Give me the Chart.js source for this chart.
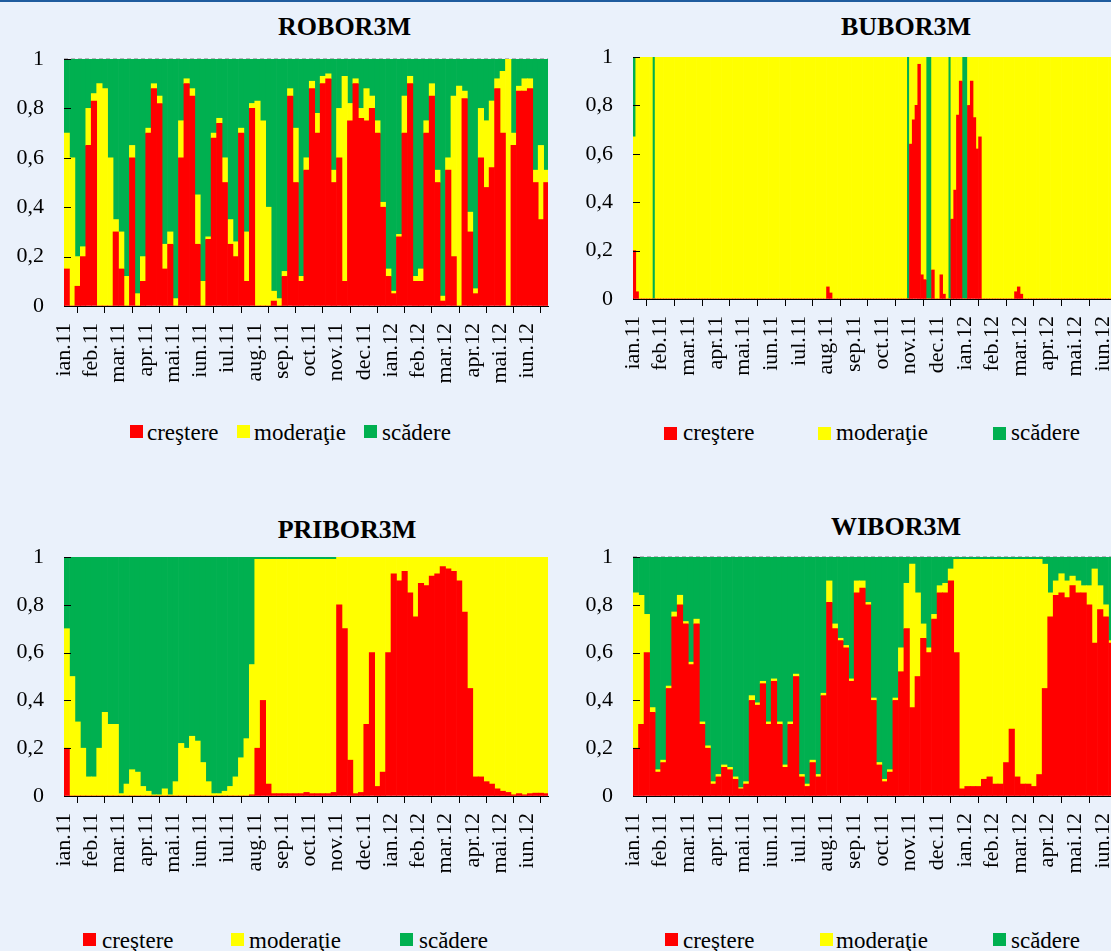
<!DOCTYPE html>
<html><head><meta charset="utf-8">
<script src="https://cdn.jsdelivr.net/npm/chart.js@4.4.1/dist/chart.umd.min.js"></script>
<style>
html,body{margin:0;padding:0;}
body{width:1111px;height:951px;overflow:hidden;background:#EAF1FB;position:relative;font-family:'Liberation Serif','DejaVu Serif','Noto Serif',serif;}
#topline{position:absolute;left:0;top:0;width:1111px;height:2px;background:#1F5C9E;}
canvas{position:absolute;}
.title{position:absolute;font-weight:bold;font-size:26px;line-height:26px;white-space:nowrap;transform:translateX(-50%);color:#000;}
.legtxt{position:absolute;font-size:23px;line-height:23px;white-space:nowrap;color:#000;}
.legbox{position:absolute;width:13px;height:13px;}
</style></head><body>
<div id="topline"></div>
<script>
// ---------- DATA ----------
const months = ['ian.11','feb.11','mar.11','apr.11','mai.11','iun.11','iul.11','aug.11','sep.11','oct.11','nov.11','dec.11','ian.12','feb.12','mar.12','apr.12','mai.12','iun.12'];
const yTickLabels = ['0','0,2','0,4','0,6','0,8','1'];
const seriesNames = ['creştere','moderaţie','scădere'];
const seriesColors = ['#FF0000','#FFFF00','#00B050'];
const spanMonths = 17.76;

// ROBOR3M (bins of 0.2 month)
const roborRed = [.15,0,.08,.2,.65,.83,0,0,0,.3,
 .15,0,.6,0,.1,.7,.88,.82,.15,.25,
 0,.6,.9,.85,.25,0,.27,.68,.74,.5,
 .25,.2,.7,.1,.8,0,0,0,.02,0,
 .12,.85,.5,.1,.55,.88,.7,.9,.92,.5,
 .6,.1,.75,.9,.76,.75,.8,.7,.4,.12,
 .05,.28,.7,.9,.1,.1,.7,.85,.5,.02,
 .55,.2,0,.84,.3,.05,.6,.48,.56,.88,
 .7,0,.65,.87,.87,.88,.5,.35,.5];
const roborYellow = [.55,.6,.12,.04,.15,.03,.9,.88,.6,.05,
 .15,.12,.05,.05,.1,.02,.02,.03,.1,.05,
 .03,.15,.02,.03,.2,.1,.01,.02,.02,.1,
 .1,.06,.02,.2,.02,.83,.75,.4,.04,.03,
 .02,.03,.22,.02,.05,.03,.08,.03,.02,.05,
 .2,.83,.07,.02,.04,.13,.05,.05,.02,.03,
 .01,.01,.15,.03,.02,.05,.05,.05,.05,.02,
 .05,.65,.89,.03,.08,.02,.2,.27,.27,.04,
 .25,1,.05,.02,.05,.04,.05,.3,.05];
const roborGreen = [.3,.4,.8,.76,.2,.14,.1,.12,.4,.65,
 .7,.88,.35,.95,.8,.28,.1,.15,.75,.7,
 .97,.25,.08,.12,.55,.9,.72,.3,.24,.4,
 .65,.74,.28,.7,.18,.17,.25,.6,.94,.97,
 .86,.12,.28,.88,.4,.09,.22,.07,.06,.45,
 .2,.07,.18,.08,.2,.12,.15,.25,.58,.85,
 .94,.71,.15,.07,.88,.85,.25,.1,.45,.96,
 .4,.15,.11,.13,.62,.93,.2,.25,.17,.08,
 .05,0,.3,.11,.08,.08,.45,.35,.45];

// BUBOR3M (bins of 0.1 month)
const buborRed = [.2,.03,0,0,0,0,0,0,0,0,
 0,0,0,0,0,0,0,0,0,0,
 0,0,0,0,0,0,0,0,0,0,
 0,0,0,0,0,0,0,0,0,0,
 0,0,0,0,0,0,0,0,0,0,
 0,0,0,0,0,0,0,0,0,0,
 0,0,0,0,0,0,0,0,0,0,
 .05,.025,0,0,0,0,0,0,0,0,
 0,0,0,0,0,0,0,0,0,0,
 0,0,0,0,0,0,0,0,0,0,
 .64,.74,.8,.97,.1,.08,0,0,.12,0,
 0,.1,.02,0,0,.33,.45,.76,.9,0,
 0,.8,.9,.75,.62,.67,0,0,0,0,
 0,0,0,0,0,0,0,0,.03,.05,
 .02,0,0,0,0,0,0,0,0,0,
 0,0,0,0,0,0,0,0,0,0,
 0,0,0,0,0,0,0,0,0,0,
 0,0,0,0,0,0,0,0];
const buborYellow = [.47,.97,1,1,1,1,1,0,1,1,
 1,1,1,1,1,1,1,1,1,1,
 1,1,1,1,1,1,1,1,1,1,
 1,1,1,1,1,1,1,1,1,1,
 1,1,1,1,1,1,1,1,1,1,
 1,1,1,1,1,1,1,1,1,1,
 1,1,1,1,1,1,1,1,1,1,
 .95,.975,1,1,1,1,1,1,1,1,
 1,1,1,1,1,1,1,1,1,1,
 1,1,1,1,1,1,1,1,1,0,
 .36,.26,.2,.03,.9,.92,0,0,.88,1,
 1,.9,.98,1,0,.67,.55,.24,.1,0,
 0,.2,.1,.25,.38,.33,1,1,1,1,
 1,1,1,1,1,1,1,1,.97,.95,
 .98,1,1,1,1,1,1,1,1,1,
 1,1,1,1,1,1,1,1,1,1,
 1,1,1,1,1,1,1,1,1,1,
 1,1,1,1,1,1,1,1];
const buborGreen = [.33,0,0,0,0,0,0,1,0,0,
 0,0,0,0,0,0,0,0,0,0,
 0,0,0,0,0,0,0,0,0,0,
 0,0,0,0,0,0,0,0,0,0,
 0,0,0,0,0,0,0,0,0,0,
 0,0,0,0,0,0,0,0,0,0,
 0,0,0,0,0,0,0,0,0,0,
 0,0,0,0,0,0,0,0,0,0,
 0,0,0,0,0,0,0,0,0,0,
 0,0,0,0,0,0,0,0,0,1,
 0,0,0,0,0,0,1,1,0,0,
 0,0,0,0,1,0,0,0,0,1,
 1,0,0,0,0,0,0,0,0,0,
 0,0,0,0,0,0,0,0,0,0,
 0,0,0,0,0,0,0,0,0,0,
 0,0,0,0,0,0,0,0,0,0,
 0,0,0,0,0,0,0,0,0,0,
 0,0,0,0,0,0,0,0];

// PRIBOR3M (bins of 0.2 month)
const priborRed = [.2,0,0,0,0,0,0,0,0,0,
 0,0,0,0,0,0,0,0,0,0,
 0,0,0,0,0,0,0,0,0,0,
 0,0,0,0,.005,.2,.4,.05,.01,.01,
 .01,.01,.01,.01,.015,.01,.01,.01,.01,.015,
 .8,.7,.15,.01,.015,.3,.6,.04,.1,.6,
 .93,.9,.94,.85,.75,.89,.88,.92,.93,.96,
 .95,.94,.9,.77,.45,.08,.08,.06,.05,.03,
 .02,.015,.005,.01,.005,.01,.012,.012,.01];
const priborYellow = [.5,.5,.31,.2,.08,.08,.2,.35,.3,.3,
 .01,.05,.11,.1,.04,.02,.005,.005,.03,.005,
 .06,.22,.2,.25,.23,.14,.06,.01,.01,.02,
 .04,.08,.16,.24,.545,.79,.59,.94,.98,.98,
 .98,.98,.98,.98,.975,.98,.98,.98,.98,.975,
 .2,.3,.85,.99,.985,.7,.4,.96,.9,.4,
 .07,.1,.06,.15,.25,.11,.12,.08,.07,.04,
 .05,.06,.1,.23,.55,.92,.92,.94,.95,.97,
 .98,.985,.995,.99,.995,.99,.988,.988,.99];
const priborGreen = [.3,.5,.69,.8,.92,.92,.8,.65,.7,.7,
 .99,.95,.89,.9,.96,.98,.995,.995,.97,.995,
 .94,.78,.8,.75,.77,.86,.94,.99,.99,.98,
 .96,.92,.84,.76,.45,.01,.01,.01,.01,.01,
 .01,.01,.01,.01,.01,.01,.01,.01,.01,.01,
 0,0,0,0,0,0,0,0,0,0,
 0,0,0,0,0,0,0,0,0,0,
 0,0,0,0,0,0,0,0,0,0,
 0,0,0,0,0,0,0,0,0];

// WIBOR3M (bins of 0.2 month)
const wiborRed = [.2,.3,.6,.35,.1,.14,.45,.75,.8,.72,
 .55,.72,.3,.2,.05,.08,.12,.11,.07,.03,
 .05,.4,.38,.47,.3,.48,.3,.12,.3,.5,
 .08,.04,.14,.08,.42,.81,.7,.65,.62,.48,
 .85,.87,.8,.4,.13,.06,.1,.4,.52,.7,
 .37,.5,.66,.6,.74,.85,.85,.9,.6,.03,
 .04,.04,.04,.07,.08,.05,.05,.14,.28,.08,
 .05,.05,.04,.09,.45,.75,.84,.85,.83,.88,
 .85,.85,.8,.64,.78,.75,.64,.7,.7];
const wiborYellow = [.65,.54,.16,.02,.01,.01,.01,.02,.04,.01,
 .01,.02,.01,.01,.01,.01,.01,.01,.01,.005,
 .01,.02,.01,.01,.01,.01,.01,.01,.01,.01,
 .01,.01,.01,.01,.01,.09,.02,.01,.01,.01,
 .05,.03,.01,.01,.01,.01,.01,.01,.1,.19,
 .6,.35,.06,.02,.02,.03,.04,.05,.39,.96,
 .95,.95,.95,.92,.91,.94,.94,.85,.71,.91,
 .94,.94,.95,.9,.52,.1,.06,.08,.07,.04,
 .05,.03,.08,.31,.1,.05,.01,.1,.1];
const wiborGreen = [.15,.16,.24,.63,.89,.85,.54,.23,.16,.27,
 .44,.26,.69,.79,.94,.91,.87,.88,.92,.965,
 .94,.58,.61,.52,.69,.51,.69,.87,.69,.49,
 .91,.95,.85,.91,.57,.1,.28,.34,.37,.51,
 .1,.1,.19,.59,.86,.93,.89,.59,.38,.11,
 .03,.15,.28,.38,.24,.12,.11,.05,.01,.01,
 .01,.01,.01,.01,.01,.01,.01,.01,.01,.01,
 .01,.01,.01,.01,.03,.15,.1,.07,.1,.08,
 .1,.12,.12,.05,.12,.2,.35,.2,.2];

// ---------- LAYOUT ----------
const panels = [
 {title:'ROBOR3M', red:roborRed, yellow:roborYellow, green:roborGreen, bin:0.2, dashedTop:true,
  left:0, top:40, w:556, h:380, pL:64, pR:548, pT:59, pB:306,
  titleX:344.5, titleBase:36,
  legBox:[130,237,364], legTxt:[147,254,382], legBoxTop:425, legBase:440},
 {title:'BUBOR3M', red:buborRed, yellow:buborYellow, green:buborGreen, bin:0.1, dashedTop:false,
  left:568, top:40, w:563, h:380, pL:633, pR:1124, pT:57, pB:299,
  titleX:906, titleBase:36,
  legBox:[664,818,993], legTxt:[683,836,1011], legBoxTop:427, legBase:440.5},
 {title:'PRIBOR3M', red:priborRed, yellow:priborYellow, green:priborGreen, bin:0.2, dashedTop:false,
  left:0, top:540, w:556, h:380, pL:64, pR:548, pT:557, pB:796,
  titleX:347, titleBase:539,
  legBox:[83,231,400], legTxt:[102,249,419], legBoxTop:933, legBase:948},
 {title:'WIBOR3M', red:wiborRed, yellow:wiborYellow, green:wiborGreen, bin:0.2, dashedTop:true,
  left:568, top:540, w:563, h:380, pL:633, pR:1124, pT:557, pB:796,
  titleX:896, titleBase:536,
  legBox:[665,820,993], legTxt:[683,836,1011], legBoxTop:933, legBase:948}
];

const axisDecor = {
  id:'axisDecor',
  afterDraw(chart){
    const {ctx, chartArea:a} = chart;
    const y = chart.scales.y;
    ctx.save();
    ctx.strokeStyle = '#000'; ctx.lineWidth = 1;
    y.ticks.forEach(t => {
      const py = Math.round(y.getPixelForValue(t.value)) + 0.5;
      ctx.beginPath(); ctx.moveTo(a.left, py); ctx.lineTo(a.left + 7, py); ctx.stroke();
    });
    ctx.restore();
  },
  beforeDatasetsDraw(chart, args, opts){
    if (!opts.dashedTop) return;
    const {ctx, chartArea:a} = chart;
    ctx.save();
    ctx.setLineDash([4,3]); ctx.strokeStyle = '#b4b4bc'; ctx.lineWidth = 1;
    ctx.beginPath(); ctx.moveTo(a.left, a.top - 0.5); ctx.lineTo(a.right, a.top - 0.5); ctx.stroke();
    ctx.restore();
  }
};

const FONT = "'Liberation Serif','DejaVu Serif','Noto Serif',serif";

panels.forEach(p => {
  const t = document.createElement('div');
  t.className = 'title'; t.textContent = p.title;
  t.style.left = p.titleX + 'px'; t.style.top = (p.titleBase - 21.8) + 'px';
  document.body.appendChild(t);

  const cv = document.createElement('canvas');
  cv.width = p.w; cv.height = p.h;
  cv.style.left = p.left + 'px'; cv.style.top = p.top + 'px';
  cv.style.width = p.w + 'px'; cv.style.height = p.h + 'px';
  document.body.appendChild(cv);

  const xs = p.red.map((_, i) => (i + 0.5) * p.bin);
  const pts = arr => arr.map((v, i) => ({x: xs[i], y: v}));
  const series = [p.red, p.yellow, p.green];

  new Chart(cv, {
    type:'bar',
    data:{ datasets: series.map((s, k) => ({
      label: seriesNames[k], data: pts(s), backgroundColor: seriesColors[k],
      borderWidth:0, barPercentage:1, categoryPercentage:1
    }))},
    options:{
      responsive:false, animation:false, devicePixelRatio:1,
      layout:{padding:{top:p.pT - p.top, right:(p.left + p.w) - p.pR, left:0, bottom:0}},
      plugins:{legend:{display:false}, tooltip:{enabled:false}, title:{display:false},
        axisDecor:{dashedTop:p.dashedTop}},
      scales:{
        x:{type:'linear', min:0, max:spanMonths, stacked:true, offset:false, z:1,
          afterFit: s => { s.height = (p.top + p.h) - p.pB; s.paddingLeft = 0; s.paddingRight = 0; s.paddingTop = 0; s.paddingBottom = 0; },
          grid:{drawOnChartArea:false, drawTicks:true, tickLength:7, color:'#000', lineWidth:1},
          border:{display:true, color:'#000', width:1},
          ticks:{stepSize:1, autoSkip:false, includeBounds:false, minRotation:90, maxRotation:90,
            padding:10, color:'#000', font:{family:FONT, size:22},
            callback: v => (months[Math.round(v)] !== undefined ? months[Math.round(v)] : '')}
        },
        y:{min:0, max:1, stacked:true, z:1,
          afterFit: s => { s.width = p.pL - p.left; s.paddingTop = 0; s.paddingBottom = 0; s.paddingLeft = 0; s.paddingRight = 0; },
          grid:{drawOnChartArea:false, drawTicks:false},
          border:{display:true, color:'#000', width:1},
          ticks:{stepSize:0.2, padding:20, color:'#000', font:{family:FONT, size:22},
            callback: (v, i) => yTickLabels[i]}
        }
      }
    },
    plugins:[axisDecor]
  });

  seriesNames.forEach((name, k) => {
    const b = document.createElement('div');
    b.className = 'legbox'; b.style.background = seriesColors[k];
    b.style.left = p.legBox[k] + 'px'; b.style.top = p.legBoxTop + 'px';
    document.body.appendChild(b);
    const tx = document.createElement('div');
    tx.className = 'legtxt'; tx.textContent = name;
    tx.style.left = p.legTxt[k] + 'px'; tx.style.top = (p.legBase - 19.3) + 'px';
    document.body.appendChild(tx);
  });
});
</script>
</body></html>
